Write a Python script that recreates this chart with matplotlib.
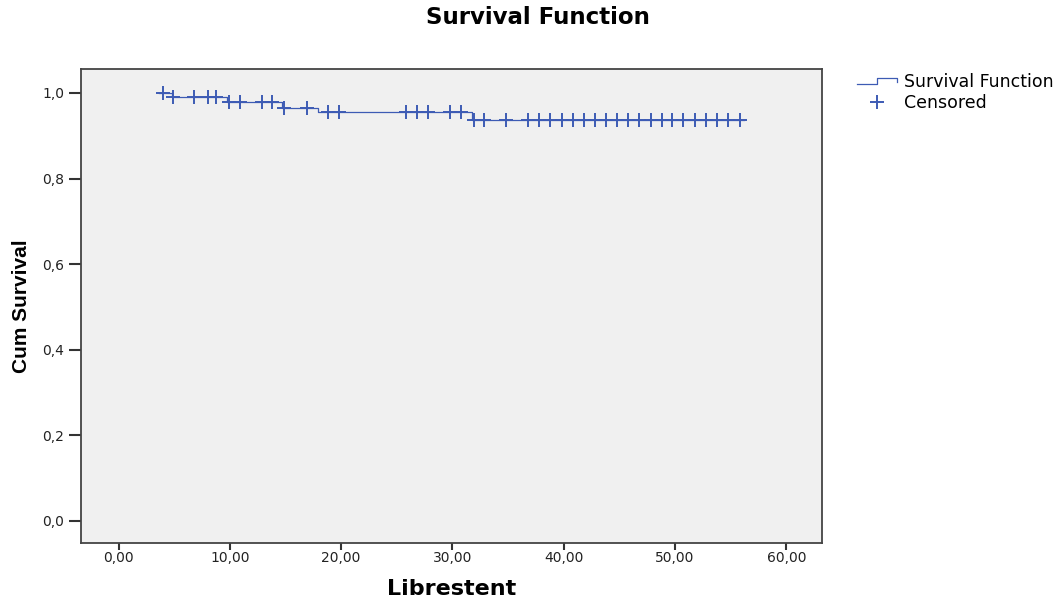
import numpy as np
import matplotlib.pyplot as plt
from matplotlib.legend_handler import HandlerBase
from matplotlib.lines import Line2D
from matplotlib.ticker import FuncFormatter

# Kaplan-Meier curve
start_time = 3.6
end_time = 56.2
event_times = [4.78, 9.75, 14.66, 17.9, 31.8]
surv_levels = [1.0, 0.990, 0.980, 0.965, 0.955, 0.937]

censored_times = [3.97,
                  4.9, 6.8, 8.0, 8.8,
                  9.93, 10.9, 12.9, 13.8,
                  14.9, 16.9,
                  18.85, 19.85, 25.8, 26.8, 27.8, 29.8, 30.75,
                  31.9, 32.8, 34.8, 36.8, 37.8, 38.8, 39.8, 40.8, 41.8, 42.8,
                  43.8, 44.8, 45.8, 46.8, 47.8, 48.8, 49.75, 50.75, 51.8,
                  52.75, 53.75, 54.75, 55.8]

color = "#3d5bb4"

step_x = [start_time] + event_times + [end_time]
step_y = surv_levels + [surv_levels[-1]]
# survival level at each censored time
idx = np.searchsorted(event_times, censored_times, side="right")
censored_y = [surv_levels[i] for i in idx]


class StepHandler(HandlerBase):
    def create_artists(self, legend, orig_handle, xdescent, ydescent,
                       width, height, fontsize, trans):
        xs = np.array([0, 0.5, 0.5, 1.0, 1.0]) * width - xdescent
        ys = np.array([0.2, 0.2, 0.75, 0.75, 0.35]) * height - ydescent
        line = Line2D(xs, ys, color=orig_handle.get_color(),
                      lw=orig_handle.get_linewidth())
        line.set_transform(trans)
        return [line]


fig = plt.figure(figsize=(10.58, 6.09), dpi=100)
ax = fig.add_axes([81 / 1058, 66 / 609, 741 / 1058, 474 / 609])
ax.set_facecolor("#f0f0f0")

surv_line, = ax.plot(step_x, step_y, drawstyle="steps-post", color=color,
                     lw=0.9, label="Survival Function")
cens, = ax.plot(censored_times, censored_y, "+", color=color, ms=9.5, mew=1.4,
                label="Censored")

ax.set_xlim(-3.37, 63.2)
ax.set_ylim(-0.0514, 1.056)
ax.set_xticks(np.arange(0, 61, 10))
ax.set_yticks(np.arange(0, 1.01, 0.2))
ax.xaxis.set_major_formatter(FuncFormatter(lambda v, p: f"{v:.2f}".replace(".", ",")))
ax.yaxis.set_major_formatter(FuncFormatter(lambda v, p: f"{v:.1f}".replace(".", ",")))
ax.tick_params(direction="out", width=1.5, color="#333333",
               labelsize=10, labelcolor="#222222")
ax.tick_params(axis="x", length=5, pad=1)
ax.tick_params(axis="y", length=9, pad=3)
for s in ax.spines.values():
    s.set_color("#444444")
    s.set_linewidth(1.3)

ax.set_xlabel("Librestent", fontsize=16, fontweight="bold", labelpad=10)
ax.set_ylabel("Cum Survival", fontsize=15, fontweight="bold", labelpad=8,
              family=["Liberation Sans Narrow", "DejaVu Sans Condensed",
                      "Liberation Sans"])
fig.text(0.508, 0.972, "Survival Function", ha="center", va="center",
         fontsize=16.5, fontweight="bold")

fig.legend([surv_line, cens], ["Survival Function", "Censored"],
           handler_map={surv_line: StepHandler()},
           loc="upper left", bbox_to_anchor=(848 / 1058, 1 - 64 / 609),
           frameon=False, fontsize=12.5, handlelength=2.3, handletextpad=0.45,
           labelspacing=0.2, borderpad=0, numpoints=1)

plt.savefig("out.png", dpi=100)
